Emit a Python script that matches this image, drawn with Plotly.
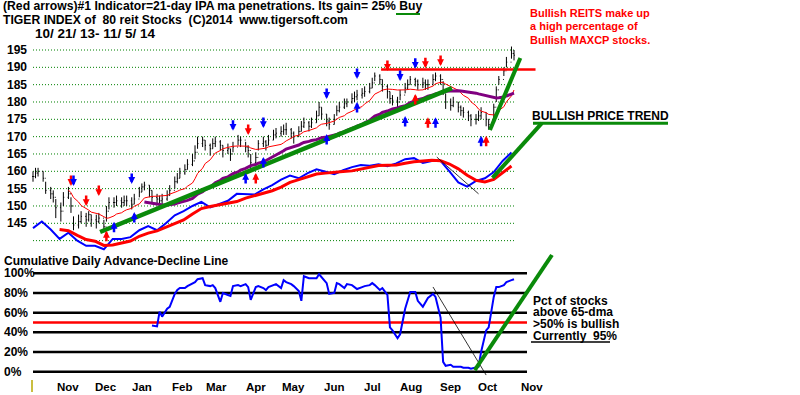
import plotly.graph_objects as go
import pandas as pd

# ---------------- data ----------------
# 2-trading-day bars of the Tiger index of 80 REIT stocks, 10/21/13 - 11/5/14
hi = [160,161,161,160,157,155.5,154.5,152,151,154,
      155.5,152.5,147,147.5,148.5,148,148.5,147.5,147.5,148,
      146,150,152.5,152.5,153,152.5,153,153,152.5,153.5,
      155.5,156.5,157,156,154.5,153.5,153,153.5,154.5,156,
      158.5,159.5,161,162,163.5,165,167.5,170,170,169,
      168,169.5,170,169,167.5,168,166.5,168.5,170.5,170,
      168.5,167.5,165,165.5,169,170,169,170.5,172,172.5,
      173,173.5,174,172.5,171.5,173,174.5,175.5,174.5,175.5,
      177.5,180,178.5,176.5,175.5,176.5,179,180,181,181,
      182.5,183,183.5,184,184.5,185.5,187,188.5,188,186.5,
      185,183,182,181.5,183.5,185.5,186.5,187.5,187,186.5,
      187,186.5,186.5,188,188.5,188,186,182.5,181,181.5,
      180,179,178.5,177.5,176.5,176.5,177.5,178.5,177,175,
      179.5,184.5,187.5,190,193,196,195]
lo = [157,158,158.5,157,153.5,152,151,146.5,145.5,150,
      152,148,143,143.5,145,144,145.5,144,143.5,145,
      142.5,145.5,149,149.5,150,149.5,150,150,149,150.5,
      152.5,154,154.5,152.5,151,150.5,150,150.5,151.5,153,
      155,156.5,158,159,160.5,161.5,163.5,166.5,167,166,
      164.5,166.5,167,166,164,165,163,165.5,167.5,167,
      165.5,164,160.5,162,166,167,166,167.5,169,169.5,
      170,170.5,170.5,169.5,168,170,171.5,172.5,171.5,172.5,
      174,176,175,173,172,173.5,176,177,178,178.5,
      179.5,180,180.5,181,181.5,182.5,184,186,185,183,
      181,179.5,179,178.5,180.5,182.5,183.5,185,184.5,183.5,
      184,183.5,183.5,185,186,185,182,178,177.5,178.5,
      177,176,175.5,174.5,173,173.5,174.5,175,173,172,
      175,180,185,187.5,190,192.5,192]
cl = [158.5,159.5,160,158,154.5,153.5,152.5,149.5,148.5,152.5,
      153.5,150,144.5,145.5,147,146,147.5,146,145.5,146.5,
      144,148.5,151,151,151.5,151,151.5,151.5,150.5,152,
      154,155.5,156,154.5,152.5,152,151.5,152,153,154.5,
      157,158,159.5,160.5,162,163,165.5,168,169,167.5,
      166.5,168,168.5,167.5,166,166.5,165,167,169,169,
      167,166,162.5,164,168,168.5,167.5,169,170.5,171,
      171.5,172,172,171,170,171.5,173,174,173,174,
      176,178.5,176.5,174.5,173.5,175,177.5,178.5,179.5,180,
      181,181.5,182,182.5,183,184,185.5,187.5,186.5,184.5,
      183,181,180.5,180,182,184,185,186.5,186,185,
      185.5,185,185,186.5,187.5,186.5,183.5,180,179,180,
      178.5,177.5,177,176,175,175,176,177,175,173.5,
      178.5,183.5,186.5,189,191.5,194,193.5]

# weekly cumulative A/D line, drawn in the price panel (price-scale units)
ad_line = [143.6,145.5,143.2,140.5,142.3,140,138.5,138.5,137.5,140.5,
           140.5,141,143,144.2,143,145,147.3,148.5,150,151.2,
           149.6,150.5,151.5,153.5,153.5,153.3,154.8,156,157.6,158.8,
           158,159.5,160.6,159.8,159.2,160.3,161.2,161.8,161.6,162,
           161.5,162.3,163.5,163.8,162.4,163,163,160,156.8,155.6,
           157.2,158,159.8,163,165.4]

# % of stocks above 65-dma (starts with bar 34)
pct_start = 34
pct_above = [47,46,61,56,64,66,79,83,85,85,
             87,90,91,94,95,88,87,88,85,71,
             80,78,77,87,88,87,89,86,73,86,
             87,85,83,86,88,89,85,93,91,89,
             87,82,72,97,95,95,95,99,96,90,
             79,80,90,89,85,89,88,86,84,86,
             87,88,90,88,83,85,78,45,42,34,
             38,64,72,81,81,72,66,70,75,79,
             76,55,10,6,7,5,5,5,4,4,
             3,4,5,20,42,45,76,86,86,88,
             91,93,94]

months = ["Nov", "Dec", "Jan", "Feb", "Mar", "Apr", "May", "Jun", "Jul", "Aug", "Sep", "Oct", "Nov"]
month_pos = ["2013-11-18", "2013-12-18", "2014-01-15", "2014-02-16", "2014-03-15", "2014-04-15",
             "2014-05-15", "2014-06-16", "2014-07-16", "2014-08-16", "2014-09-16", "2014-10-15", "2014-11-19"]
price_ticks = [195, 190, 185, 180, 175, 170, 165, 160, 155, 150, 145]
price_grid = [195, 190, 185, 180, 175, 170, 165, 160, 155, 150, 145, 140]
pct_ticks = [100, 80, 60, 40, 20, 0]

# signal arrows: bar index, price level, direction, colour
arrow_idx = [11, 12, 15, 19, 28, 23, 29, 21, 60, 63, 65, 57, 61, 65, 83, 83, 92, 92, 100,
             104, 108, 111, 115, 108, 105, 112, 114, 127, 128]
arrow_px = [157.5, 157.5, 151.7, 154.6, 158.1, 143.7, 146.5, 141.1, 157.8, 157.8, 162.4, 173.4,
            172.2, 174.2, 182.6, 169.0, 188.4, 178.3, 190.7, 187.8, 191.3, 191.5, 192.1, 180.6,
            174.2, 173.9, 173.9, 168.5, 168.5]
arrow_dir = ['d', 'd', 'd', 'd', 'd', 'u', 'u', 'u', 'u', 'u', 'u', 'd', 'd', 'd', 'd', 'u', 'd', 'u',
             'd', 'd', 'd', 'd', 'd', 'u', 'u', 'u', 'u', 'u', 'u']
arrow_col = ['r', 'b', 'r', 'r', 'b', 'b', 'b', 'r', 'b', 'r', 'b', 'b', 'r', 'b', 'b', 'b', 'b', 'b',
             'r', 'b', 'b', 'r', 'r', 'r', 'b', 'r', 'b', 'b', 'r']

# hand-drawn trend lines (date, value)
uptrend = (["2013-12-13", "2014-09-17"], [142.5, 184.0])
steep_price = (["2014-10-17", "2014-11-10"], [171.9, 192.7])
steep_ad = (["2014-10-19", "2014-11-27"], [158.1, 173.9])
resistance = (["2014-07-23", "2014-11-22"], [189.4, 189.4])
ad_down = (["2014-09-05", "2014-10-08"], [164.1, 153.5])
pct_up = (["2014-10-05", "2014-12-05"], [1.7, 118.6])
pct_down = (["2014-09-02", "2014-10-14"], [86.1, -3.4])

# ---------------- figure ----------------
W, H = 800, 395
FONT = "Liberation Sans, Arial, sans-serif"
BLUE, RED, GREEN, PURPLE = "#0000ff", "#ff0000", "#0a8a0a", "#800080"

dates = pd.bdate_range("2013-10-21", "2014-11-05")[::2][:len(cl)]
op = [cl[0]] + cl[:-1]
ma21 = pd.Series(cl).rolling(11).mean()
ma65 = pd.Series(cl).rolling(33).mean()
ad_dates = pd.date_range("2013-10-21", periods=len(ad_line), freq="7D")
ad_ma = pd.Series(ad_line).rolling(4).mean()
pct_series = [None] * pct_start + pct_above

# axis geometry (pixel layout of the original)
t0 = pd.Timestamp("2013-10-21")
px_day = (514 - 33) / 380.0
x_start = t0 - pd.Timedelta(days=33 / px_day)
x_end = t0 + pd.Timedelta(days=(W - 33) / px_day)
ppu = (223.3 - 50) / 50.0            # pixels per price unit
y_top = 195 + 50 / ppu
y_bot = 145 - (H - 223.3) / ppu
ppp = (371.7 - 273.3) / 100.0        # pixels per percent
p_top = 100 + 273.3 / ppp
p_bot = 0 - (H - 371.7) / ppp


def px(x):
    return x / W


def py(y):
    return (H - y) / H


fig = go.Figure()
fig.add_trace(go.Ohlc(x=dates, open=op, high=hi, low=lo, close=cl,
                      increasing_line_color="black", decreasing_line_color="black",
                      line_width=1, tickwidth=0.35, hoverinfo="skip", showlegend=False))
fig.add_trace(go.Scatter(x=dates, y=ma21, mode="lines", line=dict(color=RED, width=1), showlegend=False))
fig.add_trace(go.Scatter(x=dates, y=ma65, mode="lines", line=dict(color=PURPLE, width=3), showlegend=False))
fig.add_trace(go.Scatter(x=ad_dates, y=ad_line, mode="lines", line=dict(color=BLUE, width=2), showlegend=False))
fig.add_trace(go.Scatter(x=ad_dates, y=ad_ma, mode="lines", line=dict(color=RED, width=3), showlegend=False))
fig.add_trace(go.Scatter(x=dates, y=pct_series, mode="lines", yaxis="y2",
                         line=dict(color=BLUE, width=2), showlegend=False))

shapes = []
for p in price_grid:
    shapes.append(dict(type="line", xref="paper", yref="y", x0=px(33), x1=px(515), y0=p, y1=p,
                       line=dict(color="#008000", width=1, dash="1px,2px"), layer="below"))
for p in pct_ticks:
    shapes.append(dict(type="line", xref="paper", yref="y2", x0=px(33), x1=px(527), y0=p, y1=p,
                       line=dict(color="black", width=2.5), layer="below"))
shapes.append(dict(type="line", xref="paper", yref="y2", x0=px(33), x1=px(527), y0=50, y1=50,
                   line=dict(color=RED, width=2.5), layer="below"))


def seg(tr, yref, color, width):
    return dict(type="line", xref="x", yref=yref, x0=tr[0][0], x1=tr[0][1], y0=tr[1][0], y1=tr[1][1],
                line=dict(color=color, width=width), layer="above")


shapes += [seg(resistance, "y", RED, 2.5),
           seg(uptrend, "y", GREEN, 4.5),
           seg(steep_price, "y", GREEN, 4),
           seg(steep_ad, "y", GREEN, 4),
           seg(ad_down, "y", "black", 0.8),
           seg(pct_down, "y2", "black", 0.8),
           seg(pct_up, "y2", GREEN, 4)]
# underlines / small marks
shapes += [dict(type="line", xref="paper", yref="paper", x0=px(533), x1=px(668), y0=py(123.3), y1=py(123.3),
                line=dict(color=GREEN, width=3)),
           dict(type="line", xref="paper", yref="paper", x0=px(396), x1=px(420), y0=py(14), y1=py(14),
                line=dict(color=GREEN, width=2)),
           dict(type="line", xref="paper", yref="paper", x0=px(531), x1=px(610), y0=py(342), y1=py(342),
                line=dict(color="black", width=1.5)),
           dict(type="line", xref="paper", yref="paper", x0=px(32), x1=px(32), y0=py(380), y1=py(392),
                line=dict(color="#b8a800", width=1.5))]

ann = []


def txt(x, y, s, size=12, color="black", anchor="left"):
    ann.append(dict(x=px(x), y=py(y), xref="paper", yref="paper", text="<b>" + s + "</b>",
                    showarrow=False, xanchor=anchor, yanchor="middle",
                    font=dict(family=FONT, size=size, color=color)))


NB = "\u00a0"
txt(1, 6.5, "(Red arrows)#1 Indicator=21-day IPA ma penetrations. Its gain= 25% Buy", 12.2)
txt(1, 20, "TIGER INDEX of" + NB + NB + "80 reit Stocks" + NB + NB + "(C)2014" + NB + NB + "www.tigersoft.com", 12.2)
txt(33, 33, "10/" + NB + "21/" + NB + "13-" + NB + "11/" + NB + "5/" + NB + "14", 13.5)
txt(528, 12.7, "Bullish REITS make up", 11, RED)
txt(528, 26, "a high percentage of", 11, RED)
txt(528, 40, "Bullish MAXCP stocks.", 11, RED)
txt(530, 116, "BULLISH PRICE TREND", 12)
txt(2, 261, "Cumulative Daily Advance-Decline Line", 12)
txt(531, 301, "Pct of stocks", 12)
txt(531, 312, "above 65-dma", 12)
txt(531, 324, "&gt;50% is bullish", 12)
txt(531, 336, "Currently" + NB + NB + "95%", 12)

for p in price_ticks:
    ann.append(dict(x=px(5), y=p, xref="paper", yref="y", text="<b>%d</b>" % p, showarrow=False,
                    xanchor="left", yanchor="middle", font=dict(family=FONT, size=12, color="black")))
for p in pct_ticks:
    ann.append(dict(x=px(2), y=p, xref="paper", yref="y2", text="<b>%d%%</b>" % p, showarrow=False,
                    xanchor="left", yanchor="middle", font=dict(family=FONT, size=12, color="black")))
for m, d in zip(months, month_pos):
    ann.append(dict(x=d, y=py(387), xref="x", yref="paper", text="<b>" + m + "</b>", showarrow=False,
                    xanchor="center", yanchor="middle", font=dict(family=FONT, size=11.5, color="black")))

for i, p, d, c in zip(arrow_idx, arrow_px, arrow_dir, arrow_col):
    down = d == "d"
    ann.append(dict(x=dates[i], y=p, xref="x", yref="y", text="", showarrow=True,
                    arrowhead=2, arrowsize=0.55, arrowwidth=2.5,
                    arrowcolor=BLUE if c == "b" else RED,
                    ax=0, ay=-12 if down else 12, yshift=-6 if down else 6))

fig.update_layout(
    width=W, height=H, margin=dict(l=0, r=0, t=0, b=0),
    paper_bgcolor="white", plot_bgcolor="white", showlegend=False,
    xaxis=dict(type="date", range=[x_start, x_end], visible=False, rangeslider=dict(visible=False),
               fixedrange=True),
    yaxis=dict(range=[y_bot, y_top], visible=False, fixedrange=True),
    yaxis2=dict(range=[p_bot, p_top], overlaying="y", visible=False, fixedrange=True),
    shapes=shapes, annotations=ann,
)

fig.write_html("out.html", config={"displayModeBar": False},
               post_script="document.body.style.margin='0';document.body.style.overflow='hidden';")
